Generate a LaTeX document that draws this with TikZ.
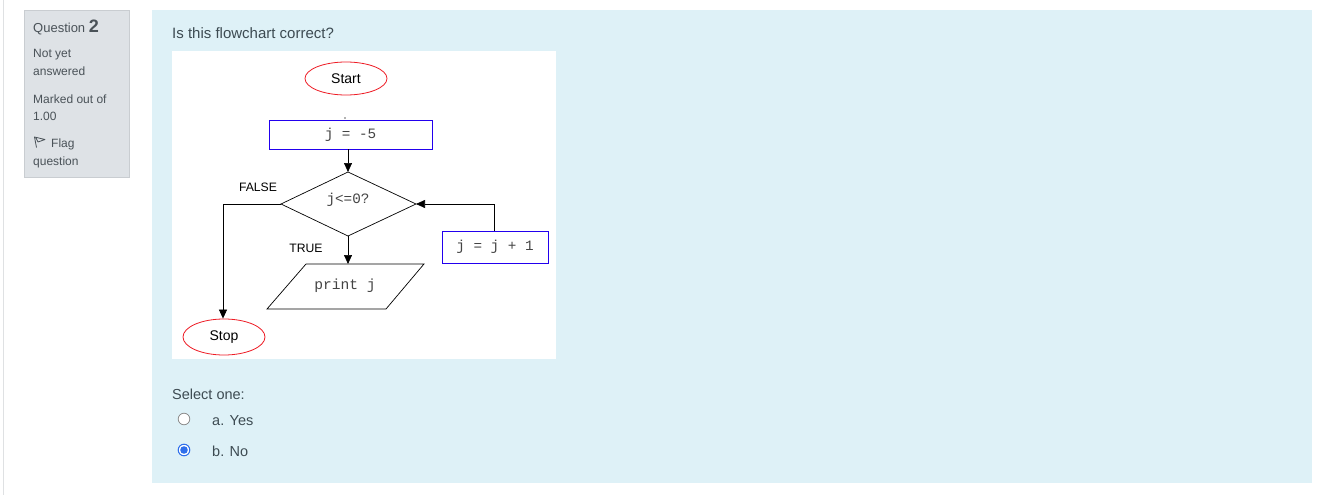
\documentclass[tikz,border=0pt]{standalone}
\usepackage{fontspec}
\setmainfont{Liberation Sans}
\newfontfamily\monof{Liberation Mono}
\usetikzlibrary{shapes.geometric,arrows.meta}
\definecolor{panel}{HTML}{DEF1F7}
\definecolor{side}{HTML}{DEE2E6}
\definecolor{sideb}{HTML}{C9CDD1}
\definecolor{txt}{HTML}{3D4B52}
\definecolor{sidetxt}{HTML}{4A5258}
\definecolor{fcred}{HTML}{EE1C25}
\definecolor{fcblue}{HTML}{2200EE}
\definecolor{monotxt}{HTML}{444444}
\definecolor{radblue}{HTML}{2F6FEB}
\tikzset{
  x=1pt,y=-1pt,
  sidetext/.style={anchor=base west,inner sep=0pt,text=sidetxt,font=\fontsize{12}{14}\selectfont},
  term/.style={ellipse,draw=fcred,line width=0.8pt,minimum width=82pt,minimum height=33pt,inner sep=0pt,font=\fontsize{14}{16}\selectfont},
  procbox/.style={rectangle,draw=fcblue,line width=0.8pt,inner sep=0pt,font=\monof\fontsize{14.3}{16}\selectfont,text=monotxt},
  monot/.style={inner sep=0pt,font=\monof\fontsize{14.3}{16}\selectfont,text=monotxt},
  lbl/.style={inner sep=0pt,font=\fontsize{12.2}{14}\selectfont},
  flow/.style={draw=black,line width=0.7pt},
  arr/.style={flow,-{Triangle[length=9pt,width=8pt]}},
  qtext/.style={anchor=base west,inner sep=0pt,text=txt,font=\fontsize{14.5}{17}\selectfont},
}
\begin{document}
\begin{tikzpicture}
\useasboundingbox (0,0) rectangle (1334,495);
\fill[white] (0,0) rectangle (1334,495);
\draw[sideb!60,line width=0.8pt] (3,0) -- (3,495);
% side info box
\filldraw[fill=side,draw=sideb,line width=0.8pt] (24.5,10.5) rectangle (129.5,177.5);
\node[sidetext,font=\fontsize{13}{14}\selectfont] (q) at (33,32.5) {Question \textbf{\fontsize{18}{18}\selectfont 2}};
\node[sidetext] (n1) at (33,58) {Not yet};
\node[sidetext] (n2) at (33,76) {answered};
\node[sidetext] (m1) at (33,103) {Marked out of};
\node[sidetext] (m2) at (33,121) {1.00};
\draw[sidetxt,line width=0.8pt,line join=round] (36.5,147.5) -- (34.5,137) -- (45,139.5) -- (38,142) -- (36,138);
\node[sidetext] (f1) at (51,147) {Flag};
\node[sidetext] (f2) at (33,165) {question};
% main panel
\fill[panel] (152,10) rectangle (1312,483);
\node[qtext,font=\fontsize{15}{17}\selectfont] (title) at (172,38.5) {Is this flowchart correct?};
\fill[white] (172,51) rectangle (556,359);
% flowchart
\node[term] (start) at (346,78.5) {Start};
\fill[black!60] (345,118) circle (0.8);
\node[procbox,minimum width=163pt,minimum height=29pt] (init) at (350.5,134.5) {j = -5};
\coordinate (dt) at (348,172);
\coordinate (dl) at (281,204);
\coordinate (dr) at (416,204);
\coordinate (db) at (348,236);
\draw[flow] (dt) -- (dr) -- (db) -- (dl) -- cycle;
\node[monot] (cond) at (348,200) {j<=0?};
\draw[arr] (init.south -| dt) -- (dt);
\node[lbl] (false) at (258,187) {FALSE};
\node[lbl] (true) at (306,248) {TRUE};
\node[term,minimum height=36pt] (stop) at (224,337) {Stop};
\draw[arr] (dl) -- (223,204) -- (stop.north -| 223,0);
\coordinate (pt1) at (306,264);
\coordinate (pt2) at (424,264);
\coordinate (pt3) at (386,309);
\coordinate (pt4) at (267,309);
\draw[flow] (pt1) -- (pt2) -- (pt3) -- (pt4) -- cycle;
\node[monot,font=\monof\fontsize{14.6}{16}\selectfont] (print) at (345,286) {print j};
\draw[arr] (db) -- (pt1 -| db);
\node[procbox,minimum width=106pt,minimum height=32pt] (inc) at (495,247) {j = j + 1};
\draw[arr] (inc.north -| 494,0) -- (494,204) -- (dr);
% answers
\node[qtext] (sel) at (172,399) {Select one:};
\filldraw[fill=white,draw=black!45,line width=0.8pt] (184,419) circle (5.8);
\node[qtext] (ya) at (212,425) {a. Yes};
\filldraw[fill=white,draw=radblue,line width=1pt] (184,450) circle (5.8);
\fill[radblue] (184,450) circle (3.8);
\node[qtext] (nb) at (212,456) {b. No};
\end{tikzpicture}
\end{document}
